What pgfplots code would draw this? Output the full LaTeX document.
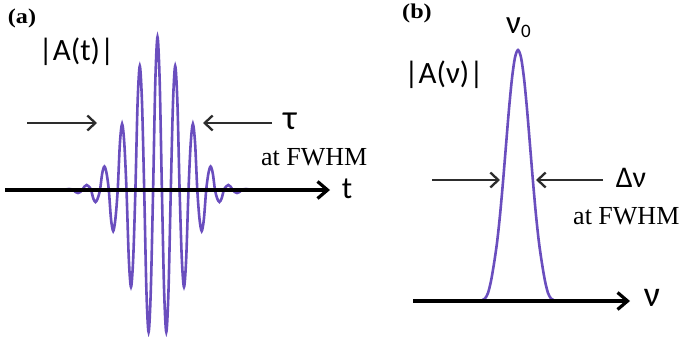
\documentclass[border=0pt]{standalone}
\usepackage{pgfplots}
\pgfplotsset{compat=1.18}
\usepackage{fontspec}
\setmainfont{Liberation Serif}
\newfontfamily\calib{Carlito}
\usetikzlibrary{arrows.meta}
\definecolor{wave}{RGB}{106,78,190}
\definecolor{arr}{RGB}{45,45,45}
\begin{document}
\begin{tikzpicture}
\begin{axis}[
  width=681bp, height=337bp, scale only axis,
  xmin=0, xmax=681, ymin=0, ymax=337, y dir=reverse,
  hide axis, clip=false,
]
\path (axis cs:0,0) rectangle (axis cs:681,337);
% (a) wave packet
\addplot[wave, line width=2.6bp, smooth] coordinates {
(55,190) (64.6,190)
(66.8,189.3) (69.0,189) (71.2,189.3) (73.5,190)
(75.7,192.1) (77.9,193) (80.1,192.1) (82.3,190)
(84.5,186.5) (86.7,185) (88.9,186.5) (91.1,190)
(93.3,198.5) (95.5,202) (97.7,198.5) (100.0,190)
(102.2,173.4) (104.4,166.5) (106.6,173.4) (108.8,190)
(111.0,219) (113.2,231) (115.4,219) (117.7,190)
(119.9,143.3) (122.1,124) (124.3,143.3) (126.5,190)
(128.8,258.6) (131.0,287) (133.2,258.6) (135.4,190)
(137.6,102.3) (139.8,66) (142.0,102.3) (144.2,190)
(146.4,290.4) (148.6,332) (150.8,290.4) (153.1,190)
(155.3,81.8) (157.5,37) (159.7,81.8) (161.9,190)
(164.1,290.4) (166.3,332) (168.5,290.4) (170.8,190)
(173.0,102.3) (175.2,66) (177.4,102.3) (179.6,190)
(181.8,258.6) (184.0,287) (186.2,258.6) (188.5,190)
(190.7,143.3) (192.9,124) (195.1,143.3) (197.3,190)
(199.5,219) (201.7,231) (203.9,219) (206.2,190)
(208.4,173.4) (210.6,166.5) (212.8,173.4) (215.0,190)
(217.2,198.5) (219.4,202) (221.6,198.5) (223.9,190)
(226.1,186.5) (228.3,185) (230.5,186.5) (232.7,190)
(234.9,192.1) (237.1,193) (239.3,192.1) (241.6,190)
(243.8,189.3) (246.0,189) (248.2,189.3) (250.4,190)
(255,190)
};
% (a) time axis
\addplot[black, line width=3.2bp, -{Straight Barb[length=10bp,width=17bp]}] coordinates {(5,190) (330,190)};
% (a) FWHM arrows
\addplot[arr, line width=2.3bp, -{Straight Barb[length=8bp,width=15bp]}] coordinates {(27,123) (97,123)};
\addplot[arr, line width=2.3bp, -{Straight Barb[length=8bp,width=15bp]}] coordinates {(272,123) (203,123)};
% (b) spectrum
\addplot[wave, line width=2.6bp, smooth] coordinates {
(467,301) (478,301) (482,300.4) (485,298.5) (488,293) (491,281) (494,263.6)
(497,242.8) (500,215.2) (503,181.8) (506,145.2) (509,109) (512,78.2) (515,57.4)
(518,50) (521,57.4) (524,78.2) (527,109) (530,145.2) (533,181.8) (536,215.2)
(539,242.8) (542,263.6) (545,281) (548,293) (551,298.5) (554,300.4) (558,301) (573,301)
};
\addplot[black, line width=3.2bp, -{Straight Barb[length=10bp,width=17bp]}] coordinates {(413,301) (630,301)};
\addplot[arr, line width=2.3bp, -{Straight Barb[length=8bp,width=15bp]}] coordinates {(432,180) (500,180)};
\addplot[arr, line width=2.3bp, -{Straight Barb[length=8bp,width=15bp]}] coordinates {(603,180) (536,180)};
% labels
\node[inner sep=0] at (axis cs:22,18.5) {\scalebox{1.15}[1]{\fontsize{21bp}{21bp}\selectfont\bfseries (a)}};
\node[inner sep=0] at (axis cs:417,13) {\scalebox{1.15}[1]{\fontsize{21bp}{21bp}\selectfont\bfseries (b)}};
\node[inner sep=0] at (axis cs:76.5,52) {\fontsize{31bp}{31bp}\selectfont\calib |A(t)|};
\node[inner sep=0] at (axis cs:444,75) {\fontsize{31bp}{31bp}\selectfont\calib |A(ν)|};
\node[inner sep=0] at (axis cs:290,121) {\fontsize{35bp}{35bp}\selectfont\calib τ};
\node[inner sep=0, anchor=base west] at (axis cs:261,165) {\fontsize{26bp}{26bp}\selectfont at FWHM};
\node[inner sep=0, anchor=base] at (axis cs:347,198) {\fontsize{31bp}{31bp}\selectfont\calib t};
\node[inner sep=0, anchor=base west] at (axis cs:506,33) {\fontsize{33bp}{33bp}\selectfont\calib ν\raisebox{-4bp}{\fontsize{19bp}{19bp}\selectfont 0}};
\node[inner sep=0] at (axis cs:631,178) {\fontsize{30bp}{30bp}\selectfont\calib Δν};
\node[inner sep=0, anchor=base west] at (axis cs:573,224) {\fontsize{26bp}{26bp}\selectfont at FWHM};
\node[inner sep=0] at (axis cs:652,298) {\fontsize{36bp}{36bp}\selectfont\calib ν};
\end{axis}
\end{tikzpicture}
\end{document}
